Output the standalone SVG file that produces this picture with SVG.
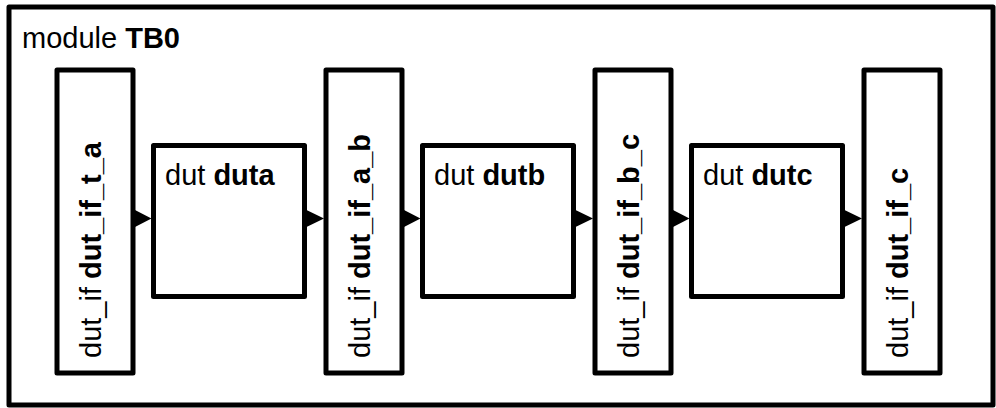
<svg xmlns="http://www.w3.org/2000/svg" width="996" height="408" viewBox="0 0 996 408">
<style>
.box{fill:#fff;stroke:#000;stroke-width:5;stroke-linejoin:round}
.t{font-family:"Liberation Sans",Arial,sans-serif;font-size:29px;fill:#000}
.b{font-weight:bold}
.arr{fill:#000;stroke:none}
</style>
<rect width="996" height="408" fill="#fff"/>
<g id="module_TB0">
<rect class="box" x="9" y="7" width="984" height="398"/>
<text class="t" x="22" y="48">module <tspan class="b">TB0</tspan></text>
</g>
<g id="dut_if_t_a">
<rect class="box" x="57" y="70" width="76" height="303"/>
<text class="t" transform="translate(101,358) rotate(-90)">dut_if <tspan class="b">dut_if_t_a</tspan></text>
</g>
<g id="duta">
<rect class="box" x="153.5" y="145.5" width="151" height="151"/>
<text class="t" x="165" y="185">dut <tspan class="b">duta</tspan></text>
</g>
<g id="dut_if_a_b">
<rect class="box" x="326" y="70" width="76" height="303"/>
<text class="t" transform="translate(370,358) rotate(-90)">dut_if <tspan class="b">dut_if_a_b</tspan></text>
</g>
<g id="dutb">
<rect class="box" x="422.5" y="145.5" width="151" height="151"/>
<text class="t" x="434" y="185">dut <tspan class="b">dutb</tspan></text>
</g>
<g id="dut_if_b_c">
<rect class="box" x="595" y="70" width="76" height="303"/>
<text class="t" transform="translate(639,358) rotate(-90)">dut_if <tspan class="b">dut_if_b_c</tspan></text>
</g>
<g id="dutc">
<rect class="box" x="691.5" y="145.5" width="151" height="151"/>
<text class="t" x="703" y="185">dut <tspan class="b">dutc</tspan></text>
</g>
<g id="dut_if_c">
<rect class="box" x="864" y="70" width="76" height="303"/>
<text class="t" transform="translate(908,358) rotate(-90)">dut_if <tspan class="b">dut_if_c</tspan></text>
</g>
<g id="connectors">
<polygon class="arr" points="135,210 135,227 151.5,218.5"/>
<polygon class="arr" points="306.5,210 306.5,227 324,218.5"/>
<polygon class="arr" points="404,210 404,227 420.5,218.5"/>
<polygon class="arr" points="575.5,210 575.5,227 593,218.5"/>
<polygon class="arr" points="673,210 673,227 689.5,218.5"/>
<polygon class="arr" points="844.5,210 844.5,227 862,218.5"/>
</g>
</svg>
